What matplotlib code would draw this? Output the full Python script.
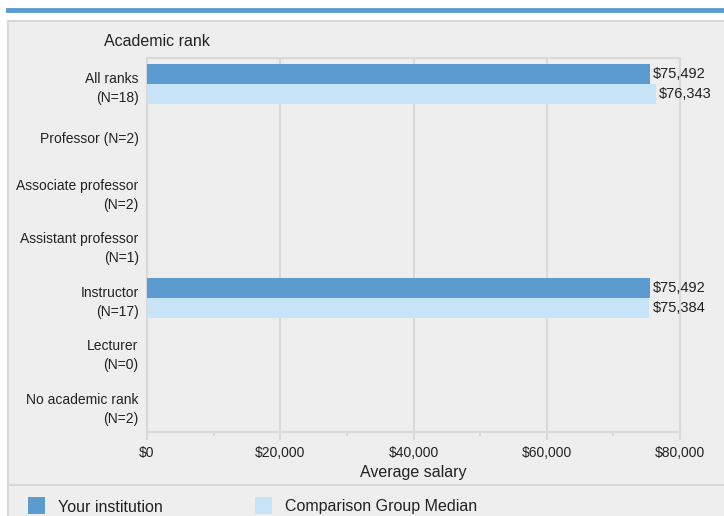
import matplotlib
matplotlib.use("Agg")
import matplotlib.pyplot as plt
from matplotlib.patches import Rectangle
import numpy as np

plt.rcParams["font.family"] = ["Liberation Sans", "DejaVu Sans"]

ranks = ["All ranks\n(N=18)", "Professor (N=2)", "Associate professor\n(N=2)",
         "Assistant professor\n(N=1)", "Instructor\n(N=17)", "Lecturer\n(N=0)",
         "No academic rank\n(N=2)"]
institution = [75492, None, None, None, 75492, None, None]
comparison = [76343, None, None, None, 75384, None, None]
series_names = ["Your institution", "Comparison Group Median"]
xticks = [0, 20000, 40000, 60000, 80000]

c_inst = "#5b9bd0"
c_comp = "#c6e3f7"
grid_c = "#d9d9d9"
bg = "#eeeeee"
txt = "#222222"

W, H = 724, 516
fig = plt.figure(figsize=(W / 100, H / 100), dpi=100)
fig.patch.set_facecolor("white")


# pixel -> figure fraction helpers
def fx(px):
    return px / W


def fy(py):
    return 1 - py / H


# panel background + borders, drawn on a bottom axes so the chart sits on top
bgax = fig.add_axes([0, 0, 1, 1], zorder=0)
bgax.set_axis_off()
bgax.set_xlim(0, W)
bgax.set_ylim(H, 0)
bgax.add_patch(Rectangle((8, 21), W - 8, H - 21, facecolor=bg, edgecolor="none"))
bgax.plot([8, W], [9.5, 9.5], color=c_inst, lw=3.5)
bgax.plot([8, W], [21, 21], color=grid_c, lw=1.5)
bgax.plot([8, 8], [21, H], color=grid_c, lw=1.5)
bgax.plot([8, W], [484.5, 484.5], color=grid_c, lw=1.5)

ax = fig.add_axes([fx(147), fy(432), fx(680) - fx(147), fy(57.5) - fy(432)], zorder=2)
ax.set_facecolor(bg)

y = np.arange(len(ranks))
h = 0.375
for i in range(len(ranks)):
    if institution[i] is not None:
        ax.barh(y[i] - h / 2, institution[i], height=h, color=c_inst, zorder=3)
        ax.text(institution[i] + 500, y[i] - h / 2, f"${institution[i]:,}",
                va="center", ha="left", fontsize=10.5, color=txt, zorder=4)
    if comparison[i] is not None:
        ax.barh(y[i] + h / 2, comparison[i], height=h, color=c_comp, zorder=3)
        ax.text(comparison[i] + 500, y[i] + h / 2, f"${comparison[i]:,}",
                va="center", ha="left", fontsize=10.5, color=txt, zorder=4)

ax.set_ylim(len(ranks) - 0.5, -0.5)
ax.set_xlim(0, 80000)
ax.set_yticks(y)
ax.set_yticklabels(ranks, fontsize=10, color=txt, linespacing=1.45)
ax.tick_params(axis="y", length=0, pad=6)
ax.set_xticks(xticks)
ax.set_xticklabels([f"${v:,}" for v in xticks], fontsize=10, color=txt)
ax.set_xticks([10000, 30000, 50000, 70000], minor=True)
ax.tick_params(axis="x", which="major", length=6, width=1.5, color=grid_c, pad=4)
ax.tick_params(axis="x", which="minor", length=3, width=1.5, color=grid_c)
ax.grid(axis="x", color=grid_c, lw=1.5, zorder=1)
for s in ["top", "right", "left", "bottom"]:
    ax.spines[s].set_color(grid_c)
    ax.spines[s].set_linewidth(1.5)
ax.set_xlabel("Average salary", fontsize=11.5, color=txt, labelpad=4)

bgax.text(104, 41, "Academic rank", fontsize=11.5, color=txt, va="center", ha="left")

# legend
for px, name, col in [(28, series_names[0], c_inst), (255, series_names[1], c_comp)]:
    bgax.add_patch(Rectangle((px, 497), 17, 17, facecolor=col, edgecolor="none"))
    bgax.text(px + 30, 507, name, fontsize=11.5, color=txt, va="center", ha="left")

fig.savefig("out.png", dpi=100, facecolor=fig.get_facecolor())
